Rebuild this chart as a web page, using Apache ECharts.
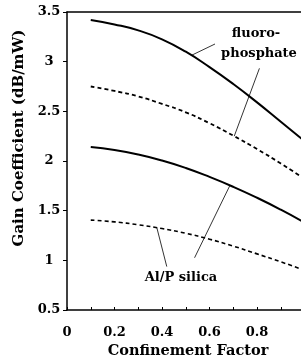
<!DOCTYPE html>
<html>
<head>
<meta charset="utf-8">
<script src="https://cdn.jsdelivr.net/npm/echarts@6/dist/echarts.min.js"></script>
<style>
	html, body { margin:0; padding:0; background:#fff; }
	#main { width:301px; height:357px; }
</style>
</head>
<body>
<div id="main"></div>
<script>
//横轴 Confinement Factor (原图在 x≈0.985 处被裁掉)
var factorX = [0.1, 0.2, 0.3, 0.4, 0.5, 0.6, 0.7, 0.8, 0.9, 1.0];
var xTicks  = [0, 0.2, 0.4, 0.6, 0.8];
var xMax    = 0.985;

//fluoro-phosphate 两条曲线
var fluoroSolid  = [3.42, 3.375, 3.315, 3.225, 3.10, 2.945, 2.775, 2.59, 2.395, 2.2];
var fluoroDashed = [2.75, 2.705, 2.65, 2.575, 2.49, 2.38, 2.255, 2.12, 1.975, 1.82];

//Al/P silica 两条曲线
var silicaSolid  = [2.14, 2.11, 2.065, 2.005, 1.93, 1.84, 1.74, 1.63, 1.51, 1.38];
var silicaDashed = [1.405, 1.387, 1.358, 1.32, 1.272, 1.213, 1.143, 1.065, 0.985, 0.9];

//指示线 [起点, 终点]
var leaderFluoro    = [[0.525, 3.065], [0.623, 3.178]];
var leaderPhosphate = [[0.704, 2.25], [0.81, 2.933]];
var leaderSilica1   = [[0.378, 1.33], [0.42, 0.937]];
var leaderSilica2   = [[0.686, 1.755], [0.537, 1.026]];

var fontFam = '"DejaVu Serif", serif';

function pairs( xs, ys )
{
	var out = [];
	for (var i = 0; i < xs.length; i++) {
		out.push([xs[i], ys[i]]);
	}
	return out;
}

function leader( seg )
{
	return [{coord: seg[0]}, {coord: seg[1]}];
}

function loadChart()
{
	var myChart = echarts.init(document.getElementById('main'));

	var option = {
		backgroundColor : '#fff',
		animation : false,
		grid : {
			left : 67,
			top : 12,
			bottom : 47,
			right : 0,
			outerBoundsMode : 'none',
		},
		xAxis : [
			{
				type : 'value',
				min : 0,
				max : xMax,
				interval : 0.2,
				name : 'Confinement Factor',
				nameLocation : 'middle',
				nameGap : 33,
				nameTextStyle : { fontFamily:fontFam, fontWeight:'bold', fontSize:14.5, color:'#000', padding:[0, 0, 0, 8] },
				axisLine : { lineStyle:{ color:'#000', width:1.5 } },
				axisTick : { inside:true, length:3, customValues:xTicks, lineStyle:{ color:'#000' } },
				minorTick : { show:true, splitNumber:2, length:3, lineStyle:{ color:'#000' } },
				axisLabel : {
					customValues : xTicks,
					margin : 16,
					fontFamily : fontFam,
					fontWeight : 'bold',
					fontSize : 13,
					color : '#000',
				},
				splitLine : { show:false },
			},
			//上边框
			{
				type : 'value',
				position : 'top',
				min : 0,
				max : xMax,
				axisLine : { lineStyle:{ color:'#000', width:1.5 } },
				axisTick : { show:false },
				axisLabel : { show:false },
				splitLine : { show:false },
			},
		],
		yAxis : {
			type : 'value',
			min : 0.5,
			max : 3.5,
			interval : 0.5,
			name : 'Gain Coefficient (dB/mW)',
			nameLocation : 'middle',
			nameGap : 34,
			nameTextStyle : { fontFamily:fontFam, fontWeight:'bold', fontSize:15, color:'#000', padding:[0, 0, 0, 46] },
			axisLine : { lineStyle:{ color:'#000', width:1.5 } },
			axisTick : { length:4, lineStyle:{ color:'#000' } },
			axisLabel : {
				align : 'center',
				margin : 18,
				fontFamily : fontFam,
				fontWeight : 'bold',
				fontSize : 13,
				color : '#000',
			},
			splitLine : { show:false },
		},
		series : [
			{
				type : 'line',
				smooth : true,
				symbol : 'none',
				data : pairs(factorX, fluoroSolid),
				lineStyle : { color:'#000', width:2 },
				markLine : {
					silent : true,
					symbol : 'none',
					label : { show:false },
					lineStyle : { color:'#000', width:0.8, type:'solid' },
					data : [ leader(leaderFluoro), leader(leaderPhosphate), leader(leaderSilica1), leader(leaderSilica2) ],
				},
			},
			{
				type : 'line',
				smooth : true,
				symbol : 'none',
				data : pairs(factorX, fluoroDashed),
				lineStyle : { color:'#000', width:1.8, type:[4,3] },
			},
			{
				type : 'line',
				smooth : true,
				symbol : 'none',
				data : pairs(factorX, silicaSolid),
				lineStyle : { color:'#000', width:2 },
			},
			{
				type : 'line',
				smooth : true,
				symbol : 'none',
				data : pairs(factorX, silicaDashed),
				lineStyle : { color:'#000', width:1.6, type:[4,3] },
			},
		],
		//曲线标注文字
		graphic : [
			{
				type : 'text',
				style : { x:256, y:34, text:'fluoro-', fontFamily:fontFam, fontWeight:'bold', fontSize:13, fill:'#000', align:'center', verticalAlign:'middle' },
			},
			{
				type : 'text',
				style : { x:259, y:54, text:'phosphate', fontFamily:fontFam, fontWeight:'bold', fontSize:13, fill:'#000', align:'center', verticalAlign:'middle' },
			},
			{
				type : 'text',
				style : { x:181, y:278, text:'Al/P silica', fontFamily:fontFam, fontWeight:'bold', fontSize:13, fill:'#000', align:'center', verticalAlign:'middle' },
			},
		],
	};

	myChart.setOption(option);
}

loadChart();
</script>
</body>
</html>
